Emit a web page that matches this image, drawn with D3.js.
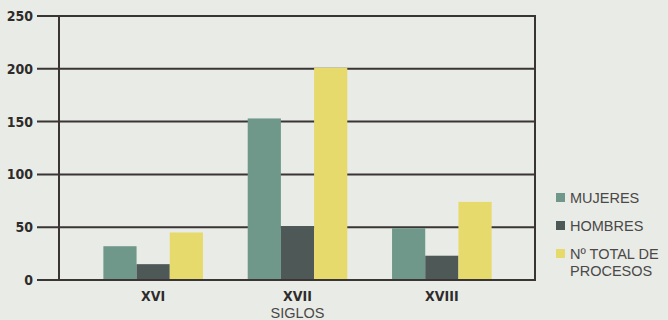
<!DOCTYPE html>
<html>
<head>
<meta charset="utf-8">
<script src="https://cdn.jsdelivr.net/npm/d3@7"></script>
<style>
  body { margin: 0; background: #e9ebe6; }
  svg { display: block; }
  .tick-label { font-family: "Liberation Sans Narrow", "DejaVu Sans Condensed", sans-serif; font-weight: bold; font-size: 14px; fill: #2e2b2b; }
  .leg { font-family: "Liberation Sans", Arial, sans-serif; font-size: 14.5px; fill: #4a4848; }
</style>
</head>
<body>
<svg width="668" height="320"></svg>
<script>
const siglos = ["XVI", "XVII", "XVIII"];
const series = ["MUJERES", "HOMBRES", "TOTAL"];
const mujeres = [32, 153, 49];
const hombres = [15, 51, 23];
const total = [45, 201, 74];
const yTicks = [0, 50, 100, 150, 200, 250];
const legendLabels = [["MUJERES"], ["HOMBRES"], ["Nº TOTAL DE", "PROCESOS"]];

const colors = ["#6f988b", "#4e5957", "#e6da6c"];

const svg = d3.select("svg");

const plotLeft = 59, plotRight = 535, plotTop = 16, plotBottom = 280;

const y = d3.scaleLinear().domain([0, 250]).range([plotBottom, plotTop]);

const x0 = d3
  .scaleBand()
  .domain(siglos)
  .range([81, 514])
  .paddingInner(0.31)
  .paddingOuter(0.155);

const x1 = d3
  .scaleBand()
  .domain(series)
  .range([0, x0.bandwidth()]);

const color = d3.scaleOrdinal().domain(series).range(colors);

// gridlines + ticks
svg
  .append("g")
  .selectAll("line")
  .data(yTicks)
  .enter()
  .append("line")
  .attr("x1", 37)
  .attr("x2", plotRight)
  .attr("y1", (d) => y(d))
  .attr("y2", (d) => y(d))
  .attr("stroke", "#3a3434")
  .attr("stroke-width", 2);

svg
  .append("g")
  .selectAll("text")
  .data(yTicks)
  .enter()
  .append("text")
  .attr("class", "tick-label")
  .attr("x", 33)
  .attr("y", (d) => y(d) + 5)
  .attr("text-anchor", "end")
  .text((d) => d);

// left and right frame lines
svg.append("line")
  .attr("x1", plotLeft).attr("x2", plotLeft)
  .attr("y1", y(250) - 1).attr("y2", y(0) + 1)
  .attr("stroke", "#3a3434").attr("stroke-width", 2);
svg.append("line")
  .attr("x1", plotRight).attr("x2", plotRight)
  .attr("y1", y(250) - 1).attr("y2", y(0) + 1)
  .attr("stroke", "#3a3434").attr("stroke-width", 2);

// bars
const rows = siglos.map((s, i) => ({
  siglo: s,
  values: [mujeres[i], hombres[i], total[i]]
}));

const groups = svg
  .append("g")
  .selectAll("g")
  .data(rows)
  .enter()
  .append("g")
  .attr("transform", (d) => `translate(${x0(d.siglo)},0)`);

groups
  .selectAll("rect")
  .data((d) => d.values.map((v, j) => ({ key: series[j], value: v })))
  .enter()
  .append("rect")
  .attr("x", (d) => x1(d.key))
  .attr("width", x1.bandwidth())
  .attr("y", (d) => y(d.value))
  .attr("height", (d) => y(0) - y(d.value) - 1)
  .attr("fill", (d) => color(d.key));

// x labels
svg
  .append("g")
  .selectAll("text")
  .data(siglos)
  .enter()
  .append("text")
  .attr("class", "tick-label")
  .attr("x", (d) => x0(d) + x0.bandwidth() / 2)
  .attr("y", 301)
  .attr("text-anchor", "middle")
  .text((d) => d);

svg.append("text")
  .attr("class", "leg")
  .attr("x", x0("XVII") + x0.bandwidth() / 2)
  .attr("y", 318)
  .attr("text-anchor", "middle")
  .attr("font-size", 13.5)
  .text("SIGLOS");

// legend
const legYs = [198, 226, 254];
const legend = svg.append("g");
legendLabels.forEach((lines, i) => {
  legend.append("rect")
    .attr("x", 556)
    .attr("y", legYs[i] - 5)
    .attr("width", 9)
    .attr("height", 9)
    .attr("fill", colors[i]);
  const t = legend.append("text")
    .attr("class", "leg")
    .attr("x", 570)
    .attr("y", legYs[i] + 5);
  lines.forEach((l, k) => {
    t.append("tspan").attr("x", 570).attr("dy", k === 0 ? 0 : 17).text(l);
  });
});
</script>
</body>
</html>
